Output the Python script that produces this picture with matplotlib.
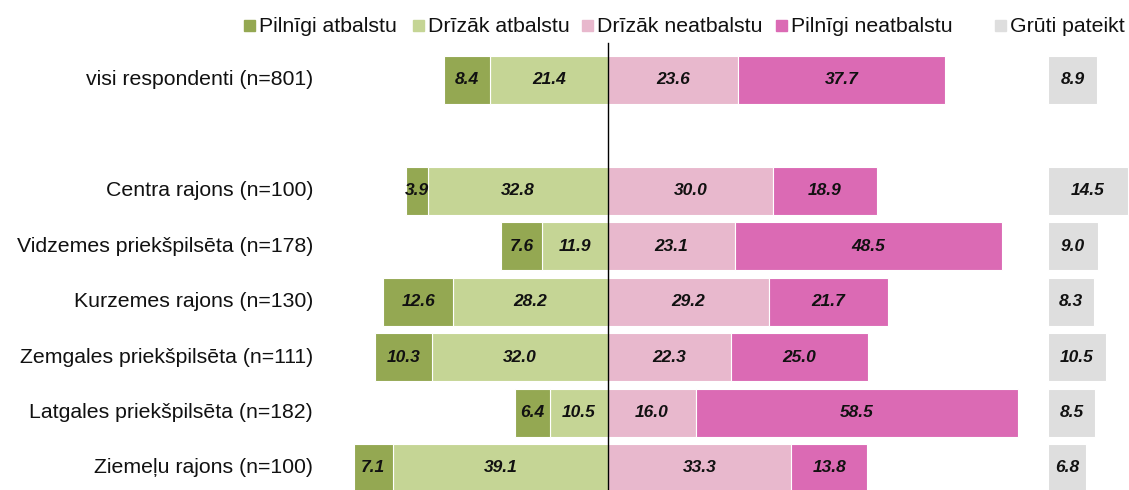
import matplotlib
matplotlib.use('Agg')
import matplotlib.pyplot as plt
from matplotlib.patches import Rectangle

plt.rcParams['font.family'] = ['Liberation Sans', 'DejaVu Sans']

# dati
grupas = ['visi respondenti (n=801)', 'Centra rajons (n=100)', 'Vidzemes priekšpilsēta (n=178)',
          'Kurzemes rajons (n=130)', 'Zemgales priekšpilsēta (n=111)',
          'Latgales priekšpilsēta (n=182)', 'Ziemeļu rajons (n=100)']
rinda = [0, 2, 3, 4, 5, 6, 7]
pilnigi_atb = [8.4, 3.9, 7.6, 12.6, 10.3, 6.4, 7.1]
drizak_atb = [21.4, 32.8, 11.9, 28.2, 32.0, 10.5, 39.1]
drizak_neatb = [23.6, 30.0, 23.1, 29.2, 22.3, 16.0, 33.3]
pilnigi_neatb = [37.7, 18.9, 48.5, 21.7, 25.0, 58.5, 13.8]
gruti = [8.9, 14.5, 9.0, 8.3, 10.5, 8.5, 6.8]

kategorijas = ['Pilnīgi atbalstu', 'Drīzāk atbalstu', 'Drīzāk neatbalstu', 'Pilnīgi neatbalstu', 'Grūti pateikt']
krasas = ['#94A852', '#C5D595', '#E8B8CD', '#DB6AB4', '#DEDEDE']

fig = plt.figure(figsize=(11.29, 4.9), dpi=100)
ax = fig.add_axes([0, 0, 1, 1])
ax.set_xlim(-110.5, 94.7)
ax.set_ylim(7.397, -1.443)
ax.axis('off')

h = 0.866
gruti_sak = 80

# kreisā puse (atbalsta)
ax.barh(rinda, [-v for v in drizak_atb], height=h, color=krasas[1], edgecolor='white', linewidth=0.8)
ax.barh(rinda, [-v for v in pilnigi_atb], left=[-v for v in drizak_atb], height=h,
        color=krasas[0], edgecolor='white', linewidth=0.8)
# labā puse (neatbalsta)
ax.barh(rinda, drizak_neatb, height=h, color=krasas[2], edgecolor='white', linewidth=0.8)
ax.barh(rinda, pilnigi_neatb, left=drizak_neatb, height=h, color=krasas[3], edgecolor='white', linewidth=0.8)
# grūti pateikt
ax.barh(rinda, gruti, left=gruti_sak, height=h, color=krasas[4], edgecolor='white', linewidth=0.8)

fs_val = 12.5
for i, r in enumerate(rinda):
    a1, a2 = drizak_atb[i], pilnigi_atb[i]
    n1, n2 = drizak_neatb[i], pilnigi_neatb[i]
    for x, v in [(-a1 / 2, a1), (-a1 - a2 / 2, a2), (n1 / 2, n1), (n1 + n2 / 2, n2),
                 (gruti_sak + gruti[i] / 2, gruti[i])]:
        ax.text(x, r, f'{v:.1f}', ha='center', va='center', fontsize=fs_val,
                fontweight='bold', fontstyle='italic', color='#111111')
    ax.text(-53.6, r, grupas[i], ha='right', va='center', fontsize=15.3, color='#111111')

# centra līnija
ax.plot([0, 0], [-0.67, 7.5], color='black', linewidth=1)

# leģenda
leg_x = [244, 413, 582, 776, 995]
for px, lab, c in zip(leg_x, kategorijas, krasas):
    fig.patches.append(Rectangle((px / 1129, 1 - 31 / 490), 11 / 1129, 10.5 / 490,
                                 transform=fig.transFigure, color=c))
    fig.text((px + 15) / 1129, 1 - 26 / 490, lab, ha='left', va='center', fontsize=15.3, color='#111111')

fig.savefig('out.png', dpi=100)
